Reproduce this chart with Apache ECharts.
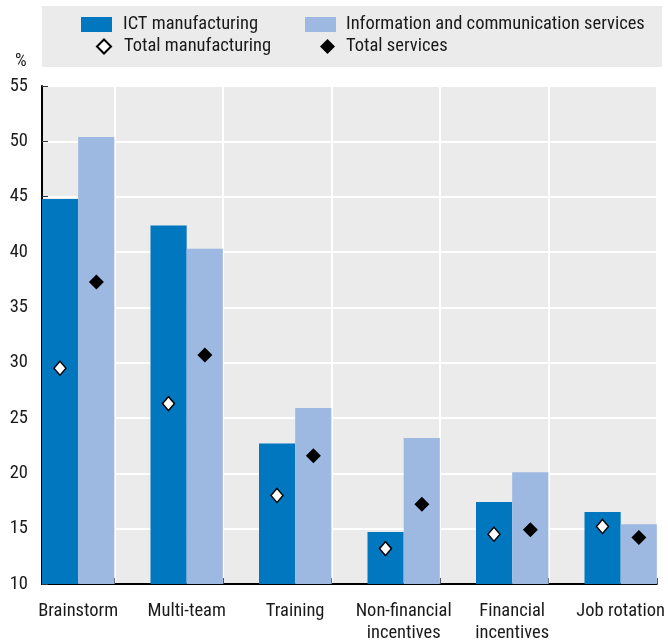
<!DOCTYPE html>
<html>
<head>
<meta charset="utf-8">
<script src="https://cdn.jsdelivr.net/npm/echarts@6/dist/echarts.min.js"></script>
<style>
html,body{margin:0;padding:0;background:#fff;}
#chart{width:668px;height:644px;}
</style>
</head>
<body>
<div id="chart"></div>
<script>
var categories = ['Brainstorm', 'Multi-team', 'Training', 'Non-financial\nincentives', 'Financial\nincentives', 'Job rotation'];
var ictManufacturing = [44.8, 42.4, 22.7, 14.7, 17.4, 16.5];
var infoCommServices = [50.4, 40.3, 25.9, 23.2, 20.1, 15.4];
var totalManufacturing = [29.5, 26.3, 18.0, 13.2, 14.5, 15.2];
var totalServices = [37.3, 30.7, 21.6, 17.2, 14.9, 14.2];
var yTicks = [10, 15, 20, 25, 30, 35, 40, 45, 50, 55];

var FONT = "'Roboto Condensed', 'DejaVu Sans Condensed', sans-serif";
var FS = 18.5;
var TEXT = '#1a1a1a';

// Each category occupies three slots on a point axis: bar pair centred on slot 3k+1, gap after.
var SLOTS = categories.length * 3;
var slotLabels = [];
for (var s = 0; s < SLOTS; s++) {
  slotLabels.push(s % 3 === 1 ? categories[(s - 1) / 3] : '');
}
function toSlots(arr) {
  var out = [];
  for (var s = 0; s < SLOTS; s++) out.push(s % 3 === 1 ? arr[(s - 1) / 3] : '-');
  return out;
}
function isBoundary(i) { return i % 3 === 2; }

var chart = echarts.init(document.getElementById('chart'), null, {renderer: 'canvas'});
function legendText(pad) {
  return {fontFamily: FONT, fontSize: FS, color: TEXT, padding: [0, 0, 0, pad]};
}
var legendCommon = {orient: 'horizontal', padding: 0, itemGap: 0, selectedMode: false};
var option = {
  animation: false,
  backgroundColor: '#fff',
  textStyle: {fontFamily: FONT},
  title: {
    text: '%', left: 15, top: 52, padding: 0,
    textStyle: {fontFamily: FONT, fontSize: FS, fontWeight: 'normal', color: TEXT}
  },
  graphic: [{
    type: 'rect', left: 42, top: 6, z: -1,
    shape: {width: 620, height: 61},
    style: {fill: '#ebebeb'}
  }],
  legend: [
    Object.assign({}, legendCommon, {data: [{name: 'ICT manufacturing', icon: 'rect'}], left: 81, top: 15, itemWidth: 31, itemHeight: 15, textStyle: legendText(6)}),
    Object.assign({}, legendCommon, {data: [{name: 'Information and communication services', icon: 'rect'}], left: 305, top: 15, itemWidth: 31, itemHeight: 15, textStyle: legendText(5)}),
    Object.assign({}, legendCommon, {data: ['Total manufacturing'], left: 96, top: 37, itemWidth: 14, itemHeight: 14, textStyle: legendText(8)}),
    Object.assign({}, legendCommon, {data: ['Total services'], left: 320, top: 37, itemWidth: 15, itemHeight: 15, textStyle: legendText(6)})
  ],
  grid: {
    left: 42, right: 6.5, top: 86, bottom: 56,
    show: true, backgroundColor: '#ebebeb', borderWidth: 0, containLabel: false
  },
  xAxis: {
    type: 'category',
    boundaryGap: false,
    data: slotLabels,
    axisLine: {show: true, lineStyle: {color: '#000', width: 2}},
    axisTick: {show: true, inside: true, length: 6, interval: isBoundary, lineStyle: {color: '#555', width: 1}},
    axisLabel: {interval: 0, margin: 16, fontFamily: FONT, fontSize: FS, color: TEXT, lineHeight: 22, align: 'center'},
    splitLine: {show: true, interval: isBoundary, lineStyle: {color: '#fff', width: 2}}
  },
  yAxis: {
    type: 'value',
    min: yTicks[0], max: yTicks[yTicks.length - 1], interval: yTicks[1] - yTicks[0],
    axisLine: {show: true, lineStyle: {color: '#000', width: 2}},
    axisTick: {show: true, inside: true, length: 6, lineStyle: {color: '#333', width: 1}},
    axisLabel: {margin: 14, fontFamily: FONT, fontSize: FS, color: TEXT},
    splitLine: {show: true, lineStyle: {color: '#fff', width: 2}}
  },
  series: [
    {
      name: 'ICT manufacturing', type: 'bar', data: toSlots(ictManufacturing),
      barWidth: '100%', barGap: '0%',
      itemStyle: {color: '#0077be'}, z: 2
    },
    {
      name: 'Information and communication services', type: 'bar', data: toSlots(infoCommServices),
      barWidth: '100%', barGap: '0%',
      itemStyle: {color: '#9db9e1'}, z: 2
    },
    {
      name: 'Total manufacturing', type: 'scatter', data: toSlots(totalManufacturing),
      symbol: 'diamond', symbolSize: [12, 14], symbolOffset: [-18.2, 0],
      itemStyle: {color: '#fff', borderColor: '#000', borderWidth: 1.5, opacity: 1}, z: 5
    },
    {
      name: 'Total services', type: 'scatter', data: toSlots(totalServices),
      symbol: 'diamond', symbolSize: [15, 15], symbolOffset: [18.2, 0],
      itemStyle: {color: '#000', borderColor: '#000', borderWidth: 0, opacity: 1}, z: 5
    }
  ]
};
chart.setOption(option);
</script>
</body>
</html>
